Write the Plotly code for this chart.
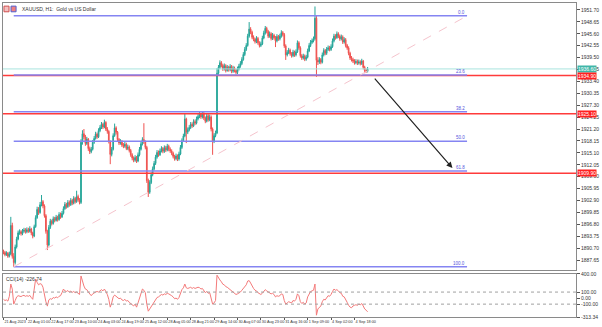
import plotly.graph_objects as go

# ---------------- data ----------------
first_open = 1889.8
closes = [
 1889.6,1889.0,1889.4,1888.6,1889.2,1896.5,1888.6,1887.0,1891.0,1893.0,
 1894.6,1894.9,1894.4,1895.0,1895.3,1894.9,1895.4,1895.0,1895.6,1894.6,
 1893.8,1896.2,1898.5,1900.6,1899.8,1901.8,1902.6,1901.5,1899.0,1895.0,
 1891.5,1896.0,1897.6,1897.0,1898.2,1897.8,1898.6,1898.0,1899.3,1898.7,
 1899.6,1900.8,1901.9,1901.3,1902.4,1901.8,1902.9,1902.2,1903.4,1902.6,
 1903.9,1903.1,1902.4,1917.8,1920.0,1919.2,1917.5,1918.6,1916.2,1915.4,
 1916.0,1917.8,1918.8,1919.9,1919.2,1920.8,1921.6,1922.4,1921.7,1922.9,
 1921.2,1920.6,1918.0,1914.7,1916.0,1919.5,1921.5,1920.4,1918.5,1917.6,
 1918.0,1917.1,1916.8,1917.3,1916.2,1916.6,1915.7,1914.6,1913.8,1913.2,
 1913.9,1913.0,1914.6,1916.0,1917.4,1918.5,1917.9,1916.5,1908.0,1905.0,
 1907.5,1909.5,1911.0,1912.4,1914.0,1915.2,1914.6,1915.6,1916.2,1915.5,
 1916.4,1915.8,1916.8,1916.0,1915.6,1915.0,1914.2,1913.6,1914.3,1913.5,
 1914.8,1916.5,1918.2,1919.4,1923.8,1920.4,1921.0,1921.6,1922.4,1922.0,
 1923.1,1922.7,1923.8,1924.4,1925.0,1924.3,1925.2,1924.0,1923.2,1924.6,
 1923.6,1924.3,1921.2,1918.0,1919.5,1920.2,1935.5,1937.0,1938.2,1937.5,
 1936.6,1937.4,1936.2,1937.0,1936.4,1937.2,1936.0,1936.8,1936.2,1935.7,
 1936.6,1937.3,1938.0,1939.0,1940.3,1941.6,1942.6,1945.0,1946.8,1946.0,
 1944.7,1944.2,1943.6,1944.4,1943.3,1942.6,1943.0,1944.5,1945.8,1947.0,
 1946.2,1945.0,1945.6,1944.4,1945.2,1944.6,1943.8,1944.9,1944.3,1945.0,
 1945.9,1945.4,1942.5,1940.2,1940.8,1941.4,1940.5,1940.0,1940.9,1940.2,
 1941.0,1943.3,1942.0,1940.0,1939.4,1939.9,1939.1,1939.6,1941.2,1942.6,
 1943.4,1943.8,1944.3,1949.6,1938.8,1938.4,1939.0,1938.3,1940.2,1941.3,
 1940.6,1941.6,1942.0,1941.6,1942.3,1943.8,1945.0,1944.6,1945.6,1945.0,
 1944.3,1944.8,1943.5,1944.1,1942.6,1942.0,1940.6,1939.4,1939.0,1938.6,
 1938.2,1938.5,1938.1,1938.4,1938.0,1938.6,1937.0,1936.2,1936.0,1936.6,
]
highs = [
 1890.3,1890.0,1889.9,1889.7,1889.8,1898.7,1897.2,1889.4,1891.6,1893.6,
 1895.2,1895.5,1895.3,1895.6,1895.9,1895.8,1896.0,1895.9,1896.3,1895.9,
 1894.9,1896.7,1899.1,1901.3,1901.2,1902.5,1904.3,1903.0,1901.9,1899.4,
 1895.4,1896.6,1898.2,1898.0,1898.8,1898.7,1899.2,1899.0,1899.9,1899.8,
 1900.2,1901.4,1902.5,1902.3,1903.0,1902.9,1903.5,1903.3,1904.0,1903.8,
 1905.4,1904.4,1903.5,1918.6,1920.9,1921.2,1919.7,1919.2,1918.9,1916.7,
 1916.6,1918.4,1919.4,1920.5,1920.3,1921.4,1922.2,1923.0,1922.8,1923.6,
 1923.2,1921.7,1920.9,1918.3,1916.6,1920.1,1922.6,1921.9,1920.7,1918.9,
 1918.6,1918.4,1917.6,1917.9,1917.7,1917.2,1917.0,1916.1,1915.0,1914.2,
 1914.5,1914.3,1915.2,1916.6,1918.0,1919.1,1922.7,1918.3,1916.9,1908.5,
 1908.1,1910.1,1911.6,1913.0,1914.6,1915.8,1915.7,1916.2,1916.8,1916.6,
 1917.0,1916.9,1917.4,1917.2,1916.5,1916.0,1915.4,1914.6,1914.9,1914.7,
 1915.4,1917.1,1918.8,1920.0,1925.3,1924.1,1921.6,1922.2,1923.0,1922.9,
 1923.7,1923.6,1924.4,1925.0,1925.6,1925.4,1925.8,1925.6,1924.4,1925.2,
 1925.0,1924.9,1924.7,1921.6,1920.1,1920.8,1936.8,1937.6,1938.8,1938.6,
 1937.9,1938.0,1937.8,1937.6,1937.4,1937.8,1937.6,1937.4,1937.2,1936.6,
 1937.2,1937.9,1938.6,1939.6,1940.9,1942.2,1943.2,1945.6,1948.6,1947.3,
 1946.4,1945.2,1944.6,1945.0,1944.8,1943.7,1943.6,1945.1,1946.4,1947.6,
 1947.4,1946.6,1946.2,1946.0,1945.8,1945.6,1945.0,1945.5,1945.3,1945.6,
 1946.5,1946.3,1945.8,1942.9,1941.4,1942.0,1941.8,1940.9,1941.5,1941.3,
 1941.6,1943.9,1943.7,1942.4,1940.4,1940.5,1940.3,1940.2,1941.8,1943.2,
 1944.0,1944.4,1944.9,1952.6,1950.2,1939.6,1939.6,1939.4,1940.8,1941.9,
 1941.7,1942.2,1942.6,1942.5,1942.9,1944.4,1945.6,1945.5,1946.2,1946.0,
 1945.4,1945.4,1945.2,1944.7,1944.5,1943.0,1942.4,1941.0,1939.9,1939.5,
 1939.1,1939.1,1939.0,1939.0,1938.8,1939.2,1938.9,1937.4,1936.7,1937.1,
]
lows = [
 1889.1,1888.6,1888.7,1888.2,1888.3,1888.9,1888.0,1885.9,1886.5,1890.6,
 1892.7,1894.1,1893.9,1894.0,1894.6,1894.4,1894.5,1894.6,1894.7,1894.0,
 1893.2,1893.5,1895.9,1898.2,1899.2,1899.5,1901.4,1900.9,1898.5,1894.4,
 1890.2,1891.1,1895.6,1896.5,1896.7,1897.3,1897.5,1897.5,1897.7,1898.2,
 1898.4,1899.3,1900.5,1900.8,1901.0,1901.3,1901.5,1901.7,1901.9,1902.1,
 1902.3,1902.6,1901.9,1902.0,1917.2,1918.6,1916.9,1917.1,1915.6,1914.8,
 1915.0,1915.7,1917.4,1918.5,1918.7,1918.9,1920.4,1921.2,1921.2,1921.4,
 1920.7,1920.0,1917.5,1912.2,1914.2,1915.7,1919.2,1919.8,1918.0,1917.1,
 1917.2,1916.6,1916.3,1916.4,1915.8,1915.8,1915.2,1914.1,1913.2,1912.7,
 1912.8,1912.5,1912.7,1914.2,1915.7,1917.0,1917.4,1916.0,1907.4,1903.8,
 1904.6,1907.1,1909.1,1910.6,1912.0,1913.6,1914.1,1914.3,1915.2,1915.0,
 1915.1,1915.3,1915.5,1915.5,1915.1,1914.5,1913.7,1913.1,1913.2,1913.0,
 1913.1,1914.5,1916.1,1917.9,1919.1,1917.6,1919.9,1920.6,1921.2,1921.5,
 1921.7,1922.2,1922.4,1923.4,1924.0,1923.8,1923.9,1923.5,1922.7,1922.9,
 1923.1,1923.2,1920.6,1914.6,1917.6,1919.1,1919.9,1935.0,1936.6,1937.0,
 1936.1,1936.2,1935.7,1935.9,1935.9,1936.0,1935.5,1935.6,1935.7,1935.2,
 1935.3,1936.2,1936.9,1937.6,1938.7,1939.9,1941.2,1942.3,1944.6,1945.5,
 1944.2,1943.7,1943.1,1943.2,1942.8,1942.1,1942.2,1942.7,1944.2,1945.4,
 1945.7,1944.5,1944.6,1943.9,1944.0,1944.1,1942.2,1943.4,1943.8,1943.9,
 1944.6,1944.9,1942.0,1938.9,1939.8,1940.4,1940.0,1939.5,1939.6,1939.7,
 1939.8,1940.7,1941.5,1939.5,1938.9,1939.0,1938.6,1938.7,1939.3,1940.9,
 1942.2,1943.0,1943.4,1943.9,1934.6,1937.6,1937.9,1937.8,1938.0,1939.8,
 1940.1,1940.2,1941.2,1941.1,1941.2,1942.0,1943.4,1944.1,1944.3,1944.5,
 1943.8,1943.9,1943.0,1943.1,1942.1,1941.5,1940.1,1938.9,1938.5,1938.1,
 1937.7,1937.8,1937.6,1937.7,1937.5,1937.6,1936.5,1935.5,1935.6,1935.7,
]
cci = [
 -20,-40,-30,-50,30,233,150,-100,-40,20,
 40,35,25,40,45,30,40,30,45,10,
 -20,150,317,260,220,240,230,180,50,-60,
 -133,-30,-10,-20,10,0,20,5,30,40,
 90,150,120,110,125,100,115,95,110,90,
 100,80,60,367,260,200,150,140,100,60,
 40,70,90,100,110,100,120,140,120,150,
 110,60,-20,-150,-80,20,50,30,10,-10,
 0,-30,-40,-20,-50,-40,-70,-90,-110,-130,
 -100,-150,-80,0,80,150,130,90,-100,-217,
 -180,-140,-100,-60,-20,10,20,40,60,50,
 70,60,80,70,60,40,20,-10,0,-20,
 10,80,140,170,233,170,160,170,180,160,
 175,160,170,180,175,150,160,120,90,110,
 80,90,10,-100,-80,-40,380,330,300,270,
 230,220,190,180,160,150,120,110,90,60,
 70,80,100,130,160,190,220,283,290,250,
 200,160,130,120,90,70,60,80,110,140,
 120,100,95,70,80,60,20,40,30,40,
 70,60,-40,-100,-80,-60,-70,-80,-40,-50,
 -20,70,40,-60,-90,-70,-100,-80,20,80,
 110,120,130,233,-283,-180,-150,-130,-60,-20,
 -30,10,40,30,60,110,150,130,140,120,
 90,80,30,20,-40,-70,-120,-150,-160,-130,
 -120,-110,-120,-100,-110,-90,-130,-180,-200,-226.74,
]

date_labels = ["21 Aug 2023", "22 Aug 01:00", "22 Aug 17:00", "23 Aug 10:00",
               "24 Aug 03:00", "24 Aug 19:00", "25 Aug 12:00", "28 Aug 05:00",
               "28 Aug 21:00", "29 Aug 14:00", "30 Aug 07:00", "30 Aug 23:00",
               "31 Aug 16:00", "1 Sep 09:00", "4 Sep 02:00", "4 Sep 18:00"]
label_step = 16

price_tick_labels = ["1951.70", "1948.65", "1945.60", "1942.55", "1939.50", "1936.45",
                     "1933.40", "1930.35", "1927.30", "1924.25", "1921.20", "1918.15",
                     "1915.10", "1912.05", "1909.00", "1905.95", "1902.90", "1899.85",
                     "1896.80", "1893.75", "1890.70", "1887.65"]
cci_tick_labels = ["400.00", "100.00", "0.00", "-100.00", "-313.34"]

fib_low, fib_high = 1885.9, 1950.2
fib_start_bar, fib_end_bar = 7, 317
fib_ratios = [0.0, 23.6, 38.2, 50.0, 61.8, 100.0]
red_levels = [1934.9, 1925.1, 1909.9]
arrow_from = (253, 1934.5)
arrow_to = (307, 1911.2)

# ---------------- figure ----------------
N = len(closes)
xs = list(range(N))
opens = [first_open] + closes[:-1]

fig = go.Figure()
fig.add_trace(go.Candlestick(
    x=xs, open=opens, high=highs, low=lows, close=closes,
    increasing=dict(line=dict(color="#26a69a", width=1), fillcolor="#26a69a"),
    decreasing=dict(line=dict(color="#ef5350", width=1), fillcolor="#ef5350"),
    whiskerwidth=0, xaxis="x", yaxis="y", showlegend=False, hoverinfo="skip"))
fig.add_trace(go.Scatter(x=xs, y=cci, mode="lines", line=dict(color="#f47a7a", width=1),
                         xaxis="x2", yaxis="y2", showlegend=False, hoverinfo="skip"))

axcol = "#8a8a8a"
tfont = dict(family="Liberation Sans, Arial", size=5, color="#333")
xfont = dict(family="Liberation Sans, Arial", size=3.8, color="#333")
xr = [-0.34, 391.5]
fig.update_layout(
    width=602, height=327, margin=dict(l=3, r=26, t=3, b=10),
    paper_bgcolor="white", plot_bgcolor="white",
    xaxis=dict(domain=[0, 1], anchor="y", range=xr, showticklabels=False, showgrid=False,
               zeroline=False, showline=True, mirror=True, linecolor=axcol, linewidth=1,
               rangeslider=dict(visible=False)),
    yaxis=dict(domain=[0.1497, 1], anchor="x", side="right", range=[1885.09, 1953.49],
               tickvals=[float(v) for v in price_tick_labels], ticktext=price_tick_labels,
               ticks="outside", ticklen=3, tickcolor="#555", tickfont=tfont, automargin=False,
               showgrid=False, zeroline=False, showline=True, mirror=True,
               linecolor=axcol, linewidth=1),
    xaxis2=dict(domain=[0, 1], anchor="y2", range=xr, matches="x",
                tickvals=[i * label_step for i in range(len(date_labels))], ticktext=date_labels,
                tickangle=0, automargin=False,
                ticklabelposition="outside right", ticks="outside", ticklen=2, tickcolor="#555",
                tickfont=xfont, showgrid=False, zeroline=False, showline=True, mirror=True,
                linecolor=axcol, linewidth=1),
    yaxis2=dict(domain=[0, 0.137], anchor="x2", side="right", range=[-313.34, 400],
                tickvals=[float(v) for v in cci_tick_labels], ticktext=cci_tick_labels,
                ticks="outside", ticklen=3, tickcolor="#555", tickfont=tfont, automargin=False,
                showgrid=False, zeroline=False, showline=True, mirror=True,
                linecolor=axcol, linewidth=1),
)

shapes = []
bid = closes[-1]
shapes.append(dict(type="line", xref="paper", yref="y", x0=0, x1=1, y0=bid, y1=bid,
                   line=dict(color="#a8e4df", width=1)))
for lv in red_levels:
    shapes.append(dict(type="line", xref="paper", yref="y", x0=0, x1=1, y0=lv, y1=lv,
                       line=dict(color="#ff3b3b", width=1.5)))
fib_prices = [fib_high - r / 100.0 * (fib_high - fib_low) for r in fib_ratios]
for p in fib_prices:
    shapes.append(dict(type="line", xref="x", yref="y", x0=fib_start_bar, x1=fib_end_bar,
                       y0=p, y1=p, line=dict(color="#8585f2", width=1.5)))
shapes.append(dict(type="line", xref="x", yref="y", x0=fib_start_bar, x1=fib_end_bar,
                   y0=fib_low, y1=fib_high, line=dict(color="#f5c4cd", width=1, dash="dash")))
for lv in [100, -100]:
    shapes.append(dict(type="line", xref="paper", yref="y2", x0=0, x1=1, y0=lv, y1=lv,
                       line=dict(color="#a0a0a0", width=1, dash="dot")))
shapes.append(dict(type="rect", xref="paper", yref="paper", x0=0.0017, x1=0.0105,
                   y0=0.972, y1=0.99, line=dict(color="#d05050", width=1), fillcolor="#f3c0c0"))
shapes.append(dict(type="rect", xref="paper", yref="paper", x0=0.0140, x1=0.0228,
                   y0=0.972, y1=0.99, line=dict(color="#5060d0", width=1), fillcolor="#f08080"))
fig.update_layout(shapes=shapes)

lab = dict(family="Liberation Sans, Arial", size=5, color="#333")
ann = []
ann.append(dict(xref="paper", yref="paper", x=0.029, y=0.996, xanchor="left", yanchor="top",
                text="XAUUSD, H1:  Gold vs US Dollar", showarrow=False, font=lab))
ann.append(dict(xref="paper", yref="paper", x=0.002, y=0.137, xanchor="left", yanchor="top",
                text="CCI(14) -226.74", showarrow=False, font=lab))
for r, p in zip(fib_ratios, fib_prices):
    ann.append(dict(xref="x", yref="y", x=fib_end_bar, y=p, xanchor="right", yanchor="bottom",
                    text=f"{r:.1f}", showarrow=False, yshift=-1,
                    font=dict(family="Liberation Sans, Arial", size=4.5, color="#5555dd")))
ann.append(dict(xref="paper", yref="y", x=1, y=bid, xanchor="left", yanchor="middle",
                xshift=1, text=f"{bid:.2f}", showarrow=False, bgcolor="#3fb6a8",
                borderpad=0, font=dict(family="Liberation Sans, Arial", size=5, color="white")))
for lv in red_levels:
    ann.append(dict(xref="paper", yref="y", x=1, y=lv, xanchor="left", yanchor="middle",
                    xshift=1, text=f"{lv:.2f}", showarrow=False, bgcolor="#ff2020",
                    borderpad=0, font=dict(family="Liberation Sans, Arial", size=5, color="white")))
ann.append(dict(xref="x", yref="y", axref="x", ayref="y", x=arrow_to[0], y=arrow_to[1],
                ax=arrow_from[0], ay=arrow_from[1], text="", showarrow=True,
                arrowhead=2, arrowsize=1, arrowwidth=1.2, arrowcolor="#222"))
fig.update_layout(annotations=ann)

fig.write_html("out.html")
